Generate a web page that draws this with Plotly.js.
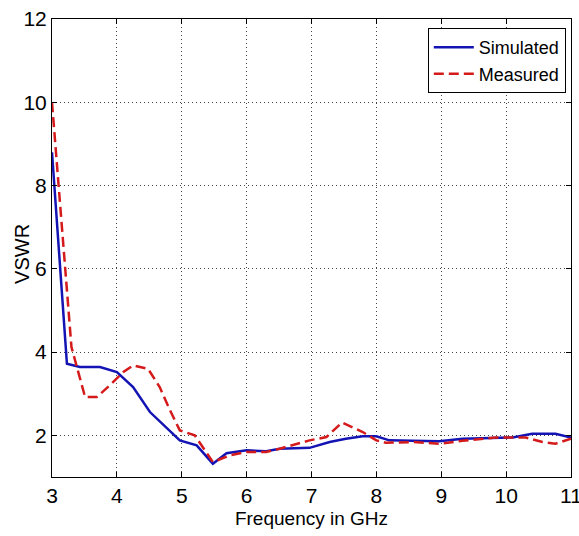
<!DOCTYPE html>
<html><head><meta charset="utf-8">
<script src="https://cdn.plot.ly/plotly-3.0.1.min.js"></script>
<style>html,body{margin:0;padding:0;background:#fff}#plot{width:579px;height:536px}</style>
</head><body><div id="plot"></div>
<script>
const simFreq = [3.0, 3.23, 3.43, 3.74, 4.0, 4.25, 4.51, 4.76, 4.97, 5.23, 5.48, 5.69, 6.0, 6.3, 6.51, 6.97, 7.28, 7.53, 7.79, 8.0, 8.2, 8.56, 8.97, 9.33, 9.84, 10.1, 10.4, 10.76, 11.0];
const simVswr = [8.8, 3.72, 3.64, 3.64, 3.52, 3.16, 2.56, 2.2, 1.88, 1.76, 1.32, 1.57, 1.64, 1.62, 1.68, 1.70, 1.84, 1.92, 1.98, 1.98, 1.88, 1.87, 1.86, 1.92, 1.95, 1.95, 2.04, 2.04, 1.95];
const measFreq = [3.0, 3.2, 3.3, 3.51, 3.69, 3.89, 4.1, 4.25, 4.48, 4.66, 4.82, 4.97, 5.2, 5.48, 5.74, 6.0, 6.3, 6.51, 6.97, 7.23, 7.47, 7.79, 8.0, 8.15, 8.56, 8.97, 9.33, 9.84, 10.3, 10.56, 10.76, 11.0];
const measVswr = [10.0, 5.97, 4.12, 2.92, 2.92, 3.2, 3.52, 3.68, 3.6, 3.16, 2.6, 2.12, 2.0, 1.36, 1.52, 1.6, 1.6, 1.68, 1.88, 1.96, 2.31, 2.08, 1.88, 1.82, 1.84, 1.8, 1.87, 1.95, 1.95, 1.84, 1.8, 1.92];
const xTicks = [3, 4, 5, 6, 7, 8, 9, 10, 11];
const yTicks = [2, 4, 6, 8, 10, 12];

const fontFam = '"Liberation Sans", Arial, sans-serif';
const traces = [
  {x: simFreq, y: simVswr, name: 'Simulated', mode: 'lines', line: {color: '#1414b4', width: 2.5}},
  {x: measFreq, y: measVswr, name: 'Measured', mode: 'lines', line: {color: '#d41a1a', width: 2.5, dash: '10px,5px'}}
];
const axisCommon = {
  showline: true, linecolor: '#000', linewidth: 1, mirror: 'ticks',
  ticks: 'inside', ticklen: 5, tickcolor: '#000',
  showgrid: true, gridcolor: '#444', griddash: '1px,3px', gridwidth: 1,
  zeroline: false, ticklabeloverflow: 'allow',
  tickfont: {family: fontFam, size: 21, color: '#000'}
};
const layout = {
  width: 579, height: 536,
  margin: {l: 52, r: 8, t: 19, b: 59},
  paper_bgcolor: '#fff', plot_bgcolor: '#fff',
  font: {family: fontFam, color: '#000'},
  xaxis: Object.assign({}, axisCommon, {range: [3, 11], tickvals: xTicks, ticktext: xTicks.map(String),
    title: {text: 'Frequency in GHz', font: {family: fontFam, size: 19}, standoff: 5}}),
  yaxis: Object.assign({}, axisCommon, {range: [1, 12], tickvals: yTicks, ticktext: yTicks.map(String)}),
  annotations: [{text: 'VSWR', xref: 'paper', yref: 'paper', x: -0.057, y: 0.488, xanchor: 'center', yanchor: 'middle',
    textangle: -90, showarrow: false, font: {family: fontFam, size: 20, color: '#000'}}],
  showlegend: true,
  legend: {x: 0.99, xanchor: 'right', y: 0.98, yanchor: 'top', bgcolor: '#fff', bordercolor: '#000', borderwidth: 1,
    itemwidth: 40, font: {family: fontFam, size: 18, color: '#000'}, tracegroupgap: 0}
};
Plotly.newPlot('plot', traces, layout, {displayModeBar: false, staticPlot: true});
</script></body></html>
